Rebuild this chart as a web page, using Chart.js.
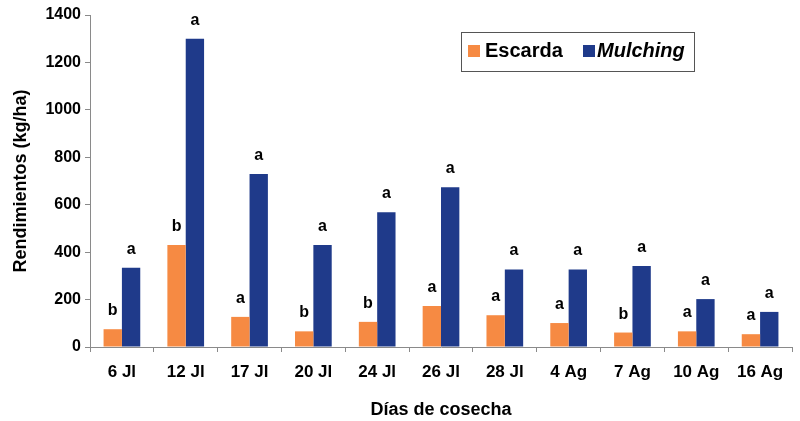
<!DOCTYPE html>
<html>
<head>
<meta charset="utf-8">
<script src="https://cdn.jsdelivr.net/npm/chart.js@4.4.1/dist/chart.umd.min.js"></script>
<style>
  html, body { margin: 0; padding: 0; background: #ffffff; }
  #wrap { width: 800px; height: 421px; position: relative; }
</style>
</head>
<body>
<div id="wrap"><canvas id="chart"></canvas></div>
<script>
const categories = ['6 Jl', '12 Jl', '17 Jl', '20 Jl', '24 Jl', '26 Jl', '28 Jl', '4 Ag', '7 Ag', '10 Ag', '16 Ag'];
const escarda = [75, 430, 127, 66, 106, 173, 134, 101, 61, 66, 54];
const mulching = [334, 1300, 730, 430, 568, 674, 327, 327, 342, 202, 148];
const escardaLetters = ['b', 'b', 'a', 'b', 'b', 'a', 'a', 'a', 'b', 'a', 'a'];
const mulchingLetters = ['a', 'a', 'a', 'a', 'a', 'a', 'a', 'a', 'a', 'a', 'a'];
const yTicks = [0, 200, 400, 600, 800, 1000, 1200, 1400];

const FONT = "'Liberation Sans', Arial, sans-serif";
const ORANGE = '#F68A43';
const BLUE = '#1F3A8A';
const AXIS = '#8a8a8a';

// letters of significance above each bar
const letterPlugin = {
    id: 'letters',
    afterDatasetsDraw(chart) {
        const ctx = chart.ctx;
        const sets = [escardaLetters, mulchingLetters];
        ctx.save();
        ctx.font = 'bold 16px ' + FONT;
        ctx.fillStyle = '#000';
        ctx.textAlign = 'center';
        ctx.textBaseline = 'alphabetic';
        sets.forEach((letters, di) => {
            chart.getDatasetMeta(di).data.forEach((bar, i) => {
                ctx.fillText(letters[i], bar.x, bar.y - 14);
            });
        });
        ctx.restore();
    }
};

// boxed legend, second entry in italics
const legendPlugin = {
    id: 'boxLegend',
    afterDraw(chart) {
        const ctx = chart.ctx;
        const x = 461, y = 32, w = 233, h = 39;
        ctx.save();
        ctx.fillStyle = '#fff';
        ctx.fillRect(x, y, w, h);
        ctx.strokeStyle = '#555';
        ctx.lineWidth = 1;
        ctx.strokeRect(x + 0.5, y + 0.5, w, h);
        ctx.fillStyle = ORANGE;
        ctx.fillRect(468, 45, 12, 12);
        ctx.fillStyle = BLUE;
        ctx.fillRect(583, 45, 12, 12);
        ctx.fillStyle = '#000';
        ctx.textBaseline = 'middle';
        ctx.textAlign = 'left';
        ctx.font = 'bold 20px ' + FONT;
        ctx.fillText(chart.data.datasets[0].label, 485, 51);
        ctx.font = 'italic bold 20px ' + FONT;
        ctx.fillText(chart.data.datasets[1].label, 597, 51);
        ctx.restore();
    }
};

new Chart(document.getElementById('chart').getContext('2d'), {
    type: 'bar',
    data: {
        labels: categories,
        datasets: [
            {
                label: 'Escarda',
                data: escarda,
                backgroundColor: ORANGE,
                borderWidth: 0,
                barPercentage: 1,
                categoryPercentage: 0.575,
            },
            {
                label: 'Mulching',
                data: mulching,
                backgroundColor: BLUE,
                borderWidth: 0,
                barPercentage: 1,
                categoryPercentage: 0.575,
            },
        ],
    },
    options: {
        responsive: true,
        maintainAspectRatio: false,
        animation: false,
        layout: { padding: { top: 15, right: 8, left: 0, bottom: 0 } },
        plugins: {
            legend: { display: false },
            tooltip: { enabled: false },
        },
        scales: {
            x: {
                grid: { drawOnChartArea: false, tickLength: 5, color: AXIS, offset: true },
                border: { color: AXIS, width: 1 },
                ticks: { color: '#000', font: { family: FONT, size: 17, weight: 'bold' }, padding: 10, maxRotation: 0 },
                title: {
                    display: true,
                    text: 'Días de cosecha',
                    color: '#000',
                    font: { family: FONT, size: 18, weight: 'bold' },
                    padding: { top: 0, bottom: 0 },
                },
                afterFit(scale) { scale.height = 74; },
            },
            y: {
                min: 0,
                max: 1400,
                afterBuildTicks(scale) { scale.ticks = yTicks.map(v => ({ value: v })); },
                grid: { drawOnChartArea: false, tickLength: 5, color: AXIS },
                border: { color: AXIS, width: 1 },
                ticks: {
                    color: '#000',
                    font: { family: FONT, size: 16, weight: 'bold' },
                    padding: 4,
                    callback: v => String(v),
                },
                title: {
                    display: true,
                    text: 'Rendimientos (kg/ha)',
                    color: '#000',
                    font: { family: FONT, size: 18, weight: 'bold' },
                    padding: { top: 10, bottom: 0 },
                },
                afterFit(scale) { scale.width = 90; },
            },
        },
    },
    plugins: [letterPlugin, legendPlugin],
});
</script>
</body>
</html>
